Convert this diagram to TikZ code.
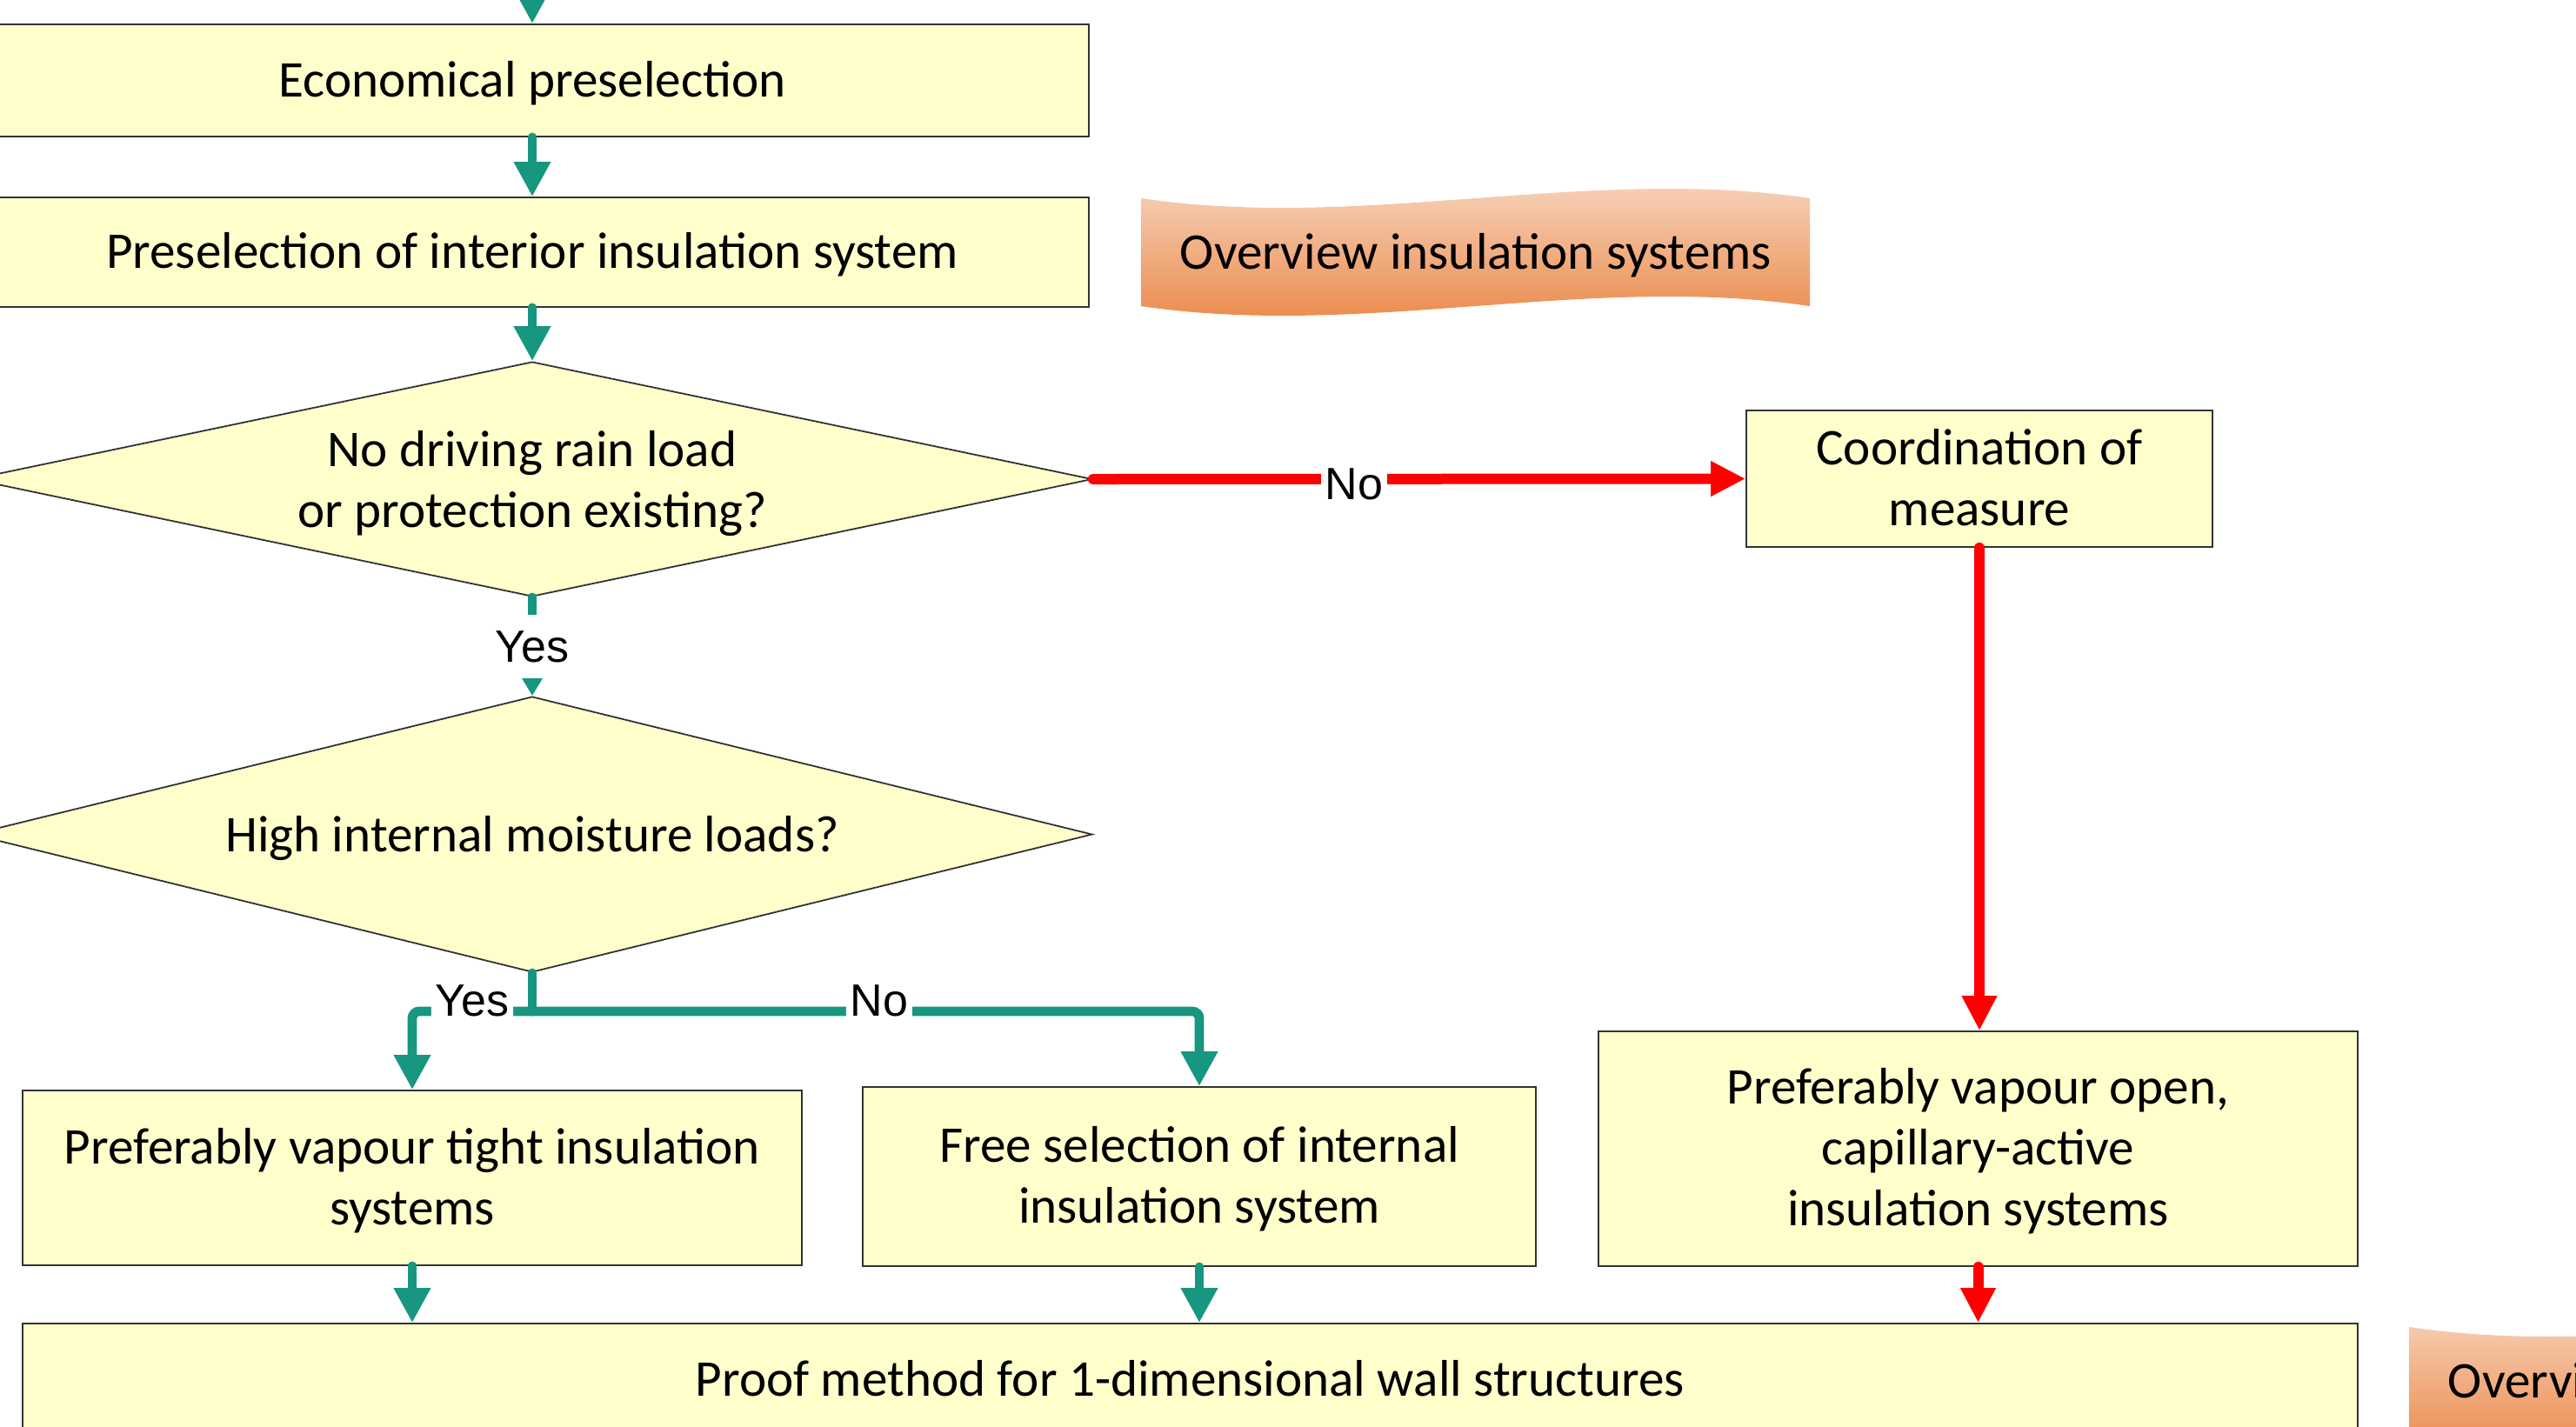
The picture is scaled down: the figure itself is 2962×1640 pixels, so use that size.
\documentclass[tikz,border=0pt]{standalone}
\usepackage{fontspec}
\setmainfont{Carlito}
\newfontfamily\arialfont{Liberation Sans}
\usetikzlibrary{arrows.meta,shapes.geometric}
\definecolor{boxfill}{HTML}{FFFFCC}
\definecolor{boxline}{HTML}{333333}
\definecolor{flowgreen}{HTML}{179680}
\definecolor{flowred}{HTML}{FF0000}
\definecolor{wavetop}{HTML}{F8DAC6}
\definecolor{wavebot}{HTML}{E9823F}
\newcommand{\boxlines}[1]{\raisebox{-1.2pt}[\height][\depth]{\begin{tabular}{@{}c@{}}#1\end{tabular}}}
\begin{document}
\begin{tikzpicture}[x=0.25pt,y=-0.25pt,
  box/.style={draw=boxline, line width=0.45pt, fill=boxfill, inner sep=0pt, align=center,
    font=\fontsize{14.8pt}{17.5pt}\selectfont},
  decision/.style={diamond, draw=boxline, line width=0.45pt, fill=boxfill, inner sep=0pt},
  boxtext/.style={inner sep=0pt, align=center, font=\fontsize{14.8pt}{17.5pt}\selectfont},
  wavetext/.style={inner sep=0pt, font=\fontsize{14.8pt}{17.5pt}\selectfont},
  lbl/.style={fill=white, inner xsep=1.2pt, inner ysep=4.5pt, font=\arialfont\fontsize{13pt}{15pt}\selectfont},
  gline/.style={draw=flowgreen, line width=2.7pt, line cap=round, -{Triangle[length=10pt,width=10pt]}},
  gsmall/.style={draw=flowgreen, line width=2.7pt, line cap=round, -{Triangle[length=5.2pt,width=5.8pt]}},
  gplain/.style={draw=flowgreen, line width=2.7pt, line cap=round},
  rline/.style={draw=flowred, line width=3pt, line cap=round, -{Triangle[length=10pt,width=9.5pt]}},
  wave/.style={top color=wavetop, bottom color=wavebot}
]
\useasboundingbox (0,0) rectangle (2962,1640);
\clip (0,0) rectangle (2962,1640);

% boxes
\node[box, minimum width=320pt, minimum height=32.25pt] (b1) at (612,92.5) {\boxlines{Economical preselection}};
\node[box, minimum width=320pt, minimum height=31.5pt] (b2) at (612,290) {\boxlines{Preselection of interior insulation system}};
\node[decision, minimum width=322pt, minimum height=67.5pt] (d1) at (612,551) {};
\node[boxtext] (d1t) at ([yshift=-1.2pt]d1.center) {No driving rain load\\or protection existing?};
\node[decision, minimum width=322pt, minimum height=79.25pt] (d2) at (612,959.5) {};
\node[boxtext] (d2t) at ([yshift=-1.2pt]d2.center) {High internal moisture loads?};
\node[box, minimum width=134pt, minimum height=39.25pt] (coord) at (2276,550.5) {\boxlines{Coordination of\\measure}};
\node[box, minimum width=218.25pt, minimum height=67.5pt] (vopen) at (2274.5,1321) {\boxlines{Preferably vapour open,\\capillary-active\\insulation systems}};
\node[box, minimum width=224pt, minimum height=50.25pt] (vtight) at (474,1354.5) {\boxlines{Preferably vapour tight insulation\\systems}};
\node[box, minimum width=193.5pt, minimum height=51.5pt] (free) at (1379,1353) {\boxlines{Free selection of internal\\insulation system}};
\node[box, minimum width=671.25pt, minimum height=32.5pt] (proof) at (1368.5,1587) {\boxlines{Proof method for 1-dimensional wall structures}};

% wave banners
\shade[wave] (1312,228) .. controls (1568,266) and (1825,190) .. (2081,228) -- (2081,352)
  .. controls (1825,314) and (1568,390) .. (1312,352) -- cycle;
\node[wavetext] (w1) at (1697,294) {Overview insulation systems};
\shade[wave] (2770,1526) .. controls (3026,1564) and (3283,1488) .. (3539,1526) -- (3539,1650)
  .. controls (3283,1612) and (3026,1688) .. (2770,1650) -- cycle;
\node[wavetext] (w2) at (3155,1592) {Overview insulation systems};

% connectors
\coordinate (topin) at (612,-60);
\draw[gline] (topin) -- (b1.north);
\draw[gline] (b1.south) -- (b2.north);
\draw[gline] (b2.south) -- (d1.north);
\draw[gsmall] (d1.south) -- node[lbl] (yes1) {Yes} (d2.north);

\draw[rline] (d1.east) -- node[lbl, pos=0.4, yshift=-1.5pt] (no1) {No} (coord.west);
\draw[rline] (coord.south) -- (coord.south |- vopen.north);

\coordinate (br) at (612,1163);
\draw[gplain] (d2.south) -- (br);
\draw[gline, rounded corners=2pt] (br) -- node[lbl, pos=0.5, yshift=3pt] (yes2) {Yes} (vtight.north |- br) -- (vtight.north);
\draw[gline, rounded corners=2pt] (br) -- node[lbl, pos=0.52, yshift=3pt] (no2) {No} (free.north |- br) -- (free.north);

\draw[gline] (vtight.south) -- (vtight.south |- proof.north);
\draw[gline] (free.south) -- (free.south |- proof.north);
\draw[rline] (vopen.south) -- (vopen.south |- proof.north);
\end{tikzpicture}
\end{document}
